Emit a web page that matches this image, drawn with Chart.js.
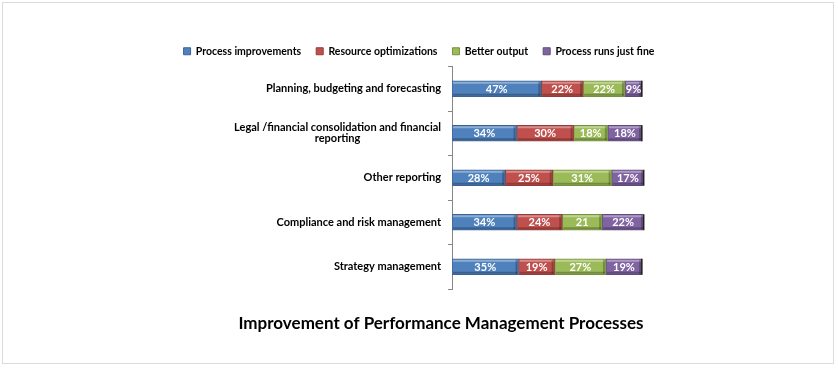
<!DOCTYPE html>
<html>
<head>
<meta charset="utf-8">
<script src="https://cdn.jsdelivr.net/npm/chart.js@4"></script>
<style>
  html, body { margin: 0; padding: 0; background: #fff; }
  #wrap { position: relative; width: 838px; height: 368px; }
  #frame {
    position: absolute; left: 2px; top: 2px; width: 830px; height: 360px;
    border: 1px solid #dcdcdc; pointer-events: none;
  }
</style>
</head>
<body>
<div id="wrap">
  <canvas id="chart" width="838" height="368"></canvas>
  <div id="frame"></div>
</div>
<script>
const categories = [
  ["Planning, budgeting and forecasting"],
  ["Legal /financial consolidation and financial", "reporting"],
  ["Other reporting"],
  ["Compliance and risk management"],
  ["Strategy management"]
];
const processImprovements = [47, 34, 28, 34, 35];
const resourceOptimizations = [22, 30, 25, 24, 19];
const betterOutput = [22, 18, 31, 21, 27];
const processRunsFine = [9, 18, 17, 22, 19];
// the one label printed without a % sign in the original
const plainLabels = ["2-3"];

const chartTitle = "Improvement of Performance Management Processes";
const FONT = "Lato, 'Open Sans', sans-serif";

const fills = ["#4F81BD", "#C0504D", "#9BBB59", "#8064A2"];
const edges = ["#3A6494", "#943C3A", "#76933C", "#5F4A7C"];

function series(label, data, i) {
  return {
    label,
    data,
    backgroundColor: fills[i],
    borderColor: edges[i],
    borderWidth: 1,
    borderSkipped: false,
    barThickness: 16
  };
}

// bevel look + value labels
const barDecor = {
  id: "barDecor",
  afterDatasetsDraw(chart) {
    const ctx = chart.ctx;
    chart.data.datasets.forEach((ds, di) => {
      const meta = chart.getDatasetMeta(di);
      meta.data.forEach((bar, i) => {
        const left = Math.min(bar.x, bar.base);
        const right = Math.max(bar.x, bar.base);
        const top = bar.y - bar.height / 2;
        const bottom = bar.y + bar.height / 2;
        ctx.save();
        ctx.fillStyle = "rgba(255,255,255,0.35)";
        ctx.fillRect(left + 1, top + 1, right - left - 2, 2);
        ctx.fillStyle = "rgba(0,0,0,0.25)";
        ctx.fillRect(left + 1, bottom - 3, right - left - 2, 2);
        ctx.fillRect(right - 3, top + 1, 2, bottom - top - 2);
        if (di === chart.data.datasets.length - 1) {
          ctx.fillStyle = "#222";
          ctx.fillRect(right - 1, top, 1.5, bottom - top);
        }
        ctx.fillStyle = "#fff";
        ctx.font = "bold 11px " + FONT;
        ctx.textAlign = "center";
        ctx.textBaseline = "middle";
        const v = ds.data[i];
        const txt = plainLabels.includes(di + "-" + i) ? String(v) : v + "%";
        ctx.fillText(txt, (left + right) / 2, bar.y + 0.5);
        ctx.restore();
      });
    });
  },
  afterDraw(chart) {
    const ctx = chart.ctx;
    const y = chart.scales.y;
    ctx.save();
    ctx.fillStyle = "#000";
    ctx.font = "bold 11px " + FONT;
    ctx.textBaseline = "middle";
    ctx.textAlign = "center";
    categories.forEach((lines, i) => {
      const cy = y.getPixelForValue(i);
      const w = Math.max(...lines.map(l => ctx.measureText(l).width));
      const cx = 441 - w / 2;
      const lh = 11;
      const start = cy - (lines.length - 1) * lh / 2;
      lines.forEach((l, k) => ctx.fillText(l, cx, start + k * lh));
    });
    ctx.font = "bold 17px " + FONT;
    ctx.fillText(chartTitle, 441, 324);
    ctx.restore();
  }
};

new Chart(document.getElementById("chart"), {
  type: "bar",
  data: {
    labels: categories.map(c => c.join(" ")),
    datasets: [
      series("Process improvements", processImprovements, 0),
      series("Resource optimizations", resourceOptimizations, 1),
      series("Better output", betterOutput, 2),
      series("Process runs just fine", processRunsFine, 3)
    ]
  },
  options: {
    indexAxis: "y",
    responsive: false,
    animation: false,
    layout: { padding: { top: 31, bottom: 79, left: 0, right: 0 } },
    scales: {
      x: { stacked: true, min: 0, max: 100.5, display: false },
      y: {
        stacked: true,
        ticks: { display: false },
        grid: { drawOnChartArea: false, tickLength: 4, color: "#868686" },
        border: { color: "#868686" },
        afterFit(s) { s.width = 452; }
      },
      pad: {
        axis: "y",
        position: "right",
        ticks: { display: false },
        grid: { display: false },
        border: { display: false },
        afterFit(s) { s.width = 195; }
      }
    },
    plugins: {
      legend: {
        position: "top",
        labels: {
          boxWidth: 7,
          boxHeight: 7,
          padding: 15,
          color: "#000",
          font: { family: FONT, size: 10.5, weight: "bold" }
        }
      },
      tooltip: { enabled: false }
    }
  },
  plugins: [barDecor]
});
</script>
</body>
</html>
